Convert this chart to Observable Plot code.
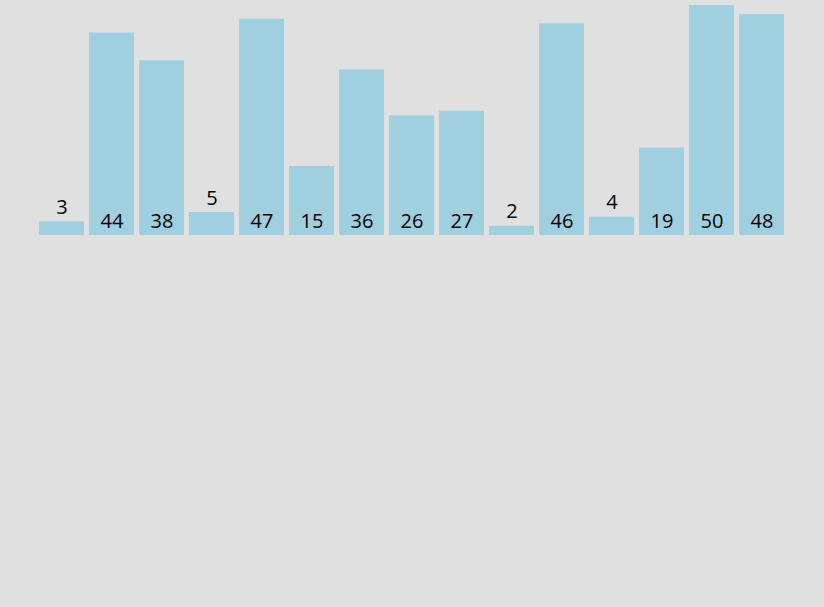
<!DOCTYPE html>
<html>
<head>
<meta charset="utf-8">
<script src="https://cdn.jsdelivr.net/npm/d3@7"></script>
<script src="https://cdn.jsdelivr.net/npm/@observablehq/plot@0.6"></script>
<style>
  html, body { margin: 0; padding: 0; background: #e0e0e0; }
  #chart svg { display: block; }
</style>
</head>
<body>
<div id="chart"></div>
<script>
const values = [3, 44, 38, 5, 47, 15, 36, 26, 27, 2, 46, 4, 19, 50, 48];
const insideThreshold = 10;

const data = values.map((v, i) => ({i, v}));

const chart = Plot.plot({
  width: 824,
  height: 235,
  marginLeft: 39,
  marginRight: 40,
  marginTop: 5,
  marginBottom: 0,
  style: {background: "#e0e0e0", fontFamily: "'Open Sans', sans-serif"},
  x: {type: "band", domain: d3.range(values.length), paddingInner: 0.1, paddingOuter: 0, axis: null},
  y: {domain: [0, 50], axis: null},
  marks: [
    Plot.barY(data, {x: "i", y: "v", fill: "#a0cfe0"}),
    Plot.text(data.filter(d => d.v >= insideThreshold), {
      x: "i", y: 0, text: d => String(d.v), lineAnchor: "bottom", dy: -8,
      fontSize: 20, fill: "black"
    }),
    Plot.text(data.filter(d => d.v < insideThreshold), {
      x: "i", y: "v", text: d => String(d.v), lineAnchor: "bottom", dy: -8,
      fontSize: 20, fill: "black"
    })
  ]
});
document.getElementById("chart").appendChild(chart);
</script>
</body>
</html>
